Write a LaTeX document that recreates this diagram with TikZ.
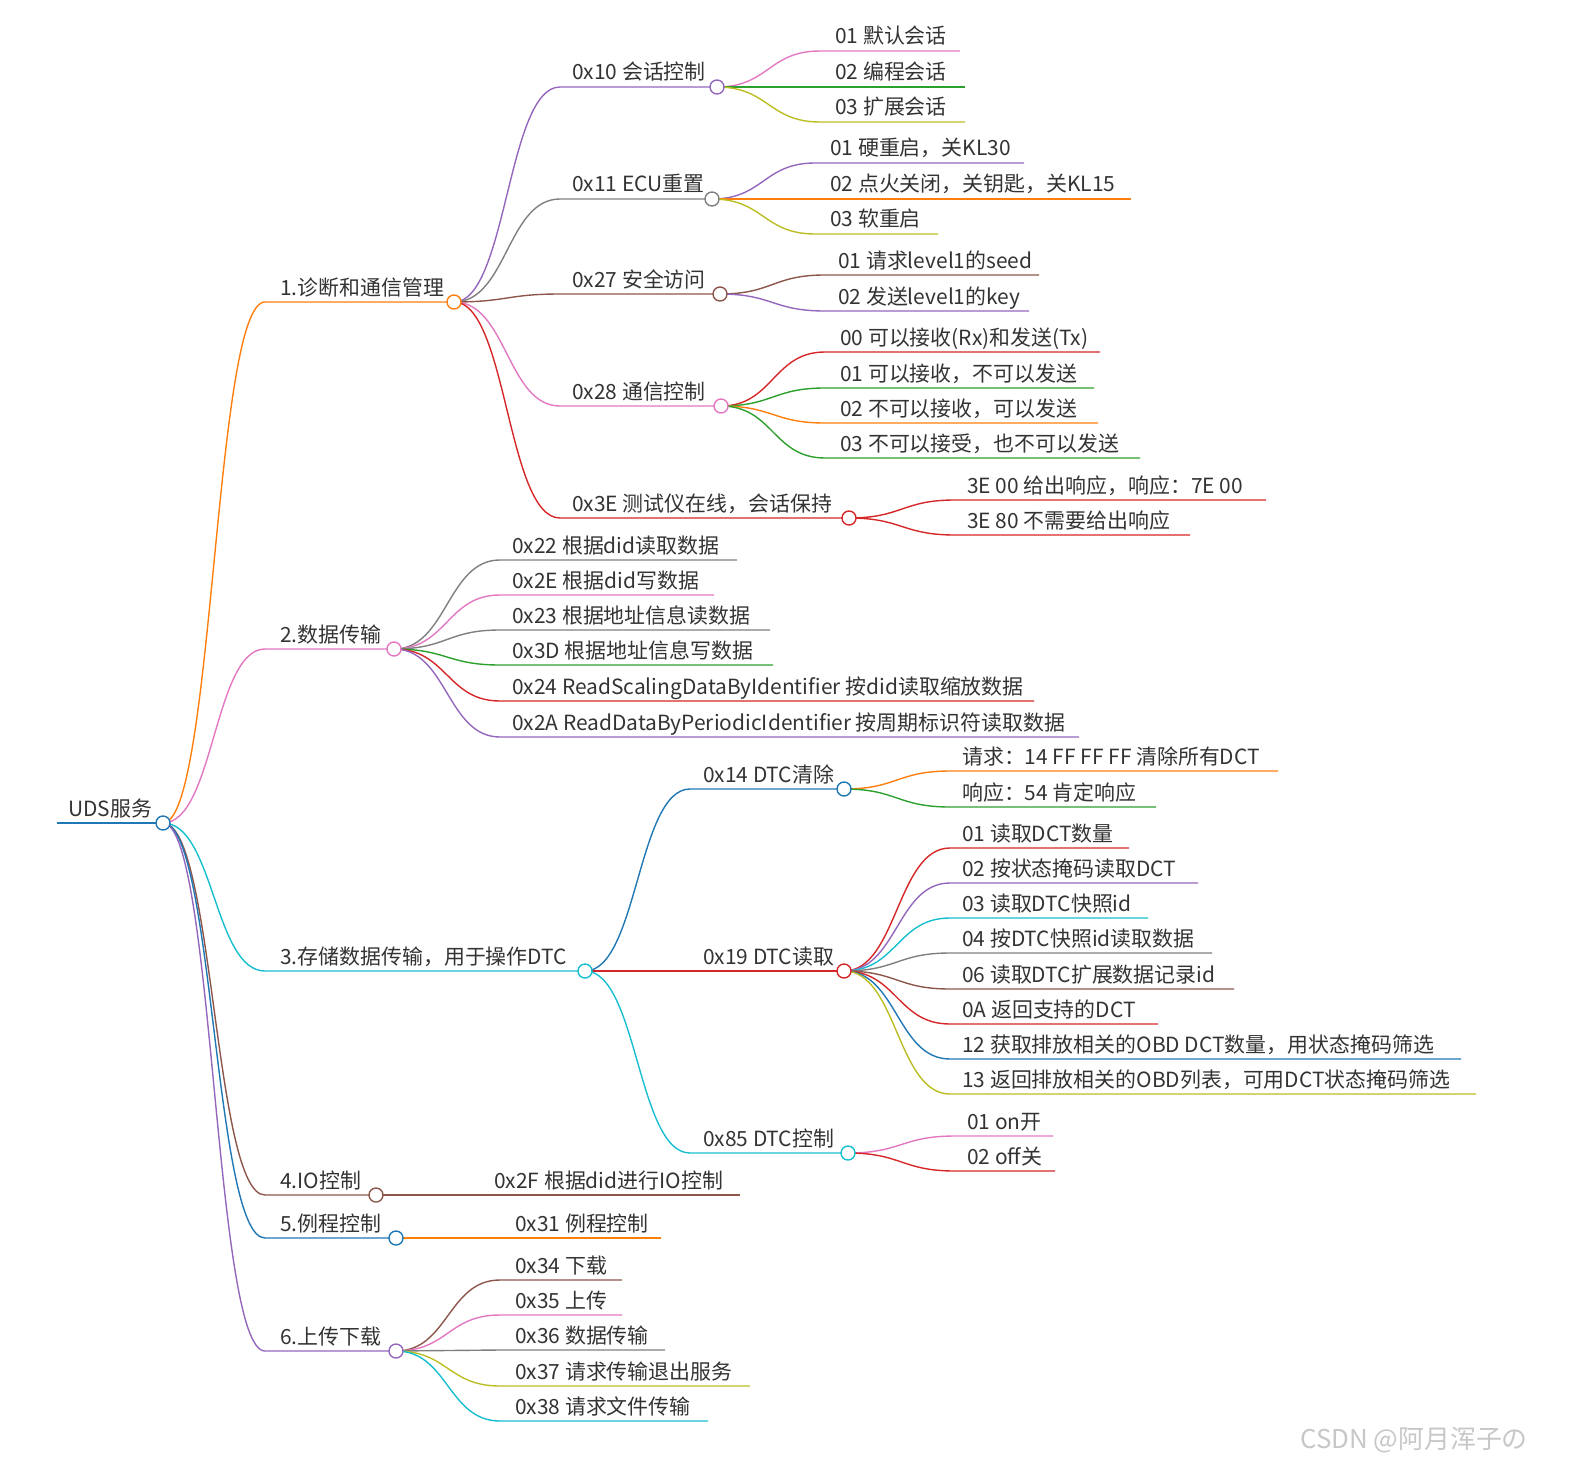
\documentclass[tikz,border=0pt]{standalone}
\usepackage{fontspec}
\setmainfont{Noto Sans CJK SC}
\usetikzlibrary{calc}
\pgfdeclarelayer{fg}\pgfsetlayers{main,fg}
\definecolor{cor}{HTML}{FF7F0E}\definecolor{cpk}{HTML}{E377C2}
\definecolor{ccy}{HTML}{17BECF}\definecolor{cbr}{HTML}{8C564B}
\definecolor{cbl}{HTML}{1F77B4}\definecolor{cpu}{HTML}{9467BD}
\definecolor{cgy}{HTML}{7F7F7F}\definecolor{cgr}{HTML}{2CA02C}
\definecolor{col}{HTML}{BCBD22}\definecolor{crd}{HTML}{D62728}
\tikzset{lw/.style={line width=1.4pt},
 txt/.style={inner sep=0pt,text=black!80,font=\fontsize{21}{24}\selectfont}}
\newcommand\br[8]{%
 \coordinate (#1-s) at (#4,#5); \coordinate (#1) at (#6,#5);
 \draw[#2,lw] let \p1=(#3),\p2=(#1-s) in (\p1) .. controls ({(\x1+\x2)/2},\y1) and ({(\x1+\x2)/2},\y2) .. (\p2) -- (#1);
 \node[txt,anchor=base west] (#1-t) at (#8,#5-7) {#7};}
\newcommand\cir[2]{\begin{pgfonlayer}{fg}\draw[#2,lw,fill=white] (#1) circle (7);\end{pgfonlayer}}
\begin{document}
\begin{tikzpicture}[x=1bp,y=-1bp]
\useasboundingbox (0,0) rectangle (1583,1478);
\coordinate (rs) at (57,823); \coordinate (r) at (163,823);
\draw[cbl,lw] (rs) -- (r);
\node[txt,anchor=base west] (r-t) at (68,816) {UDS服务};
\cir{r}{cbl}
% level 1
\br{a}{cor}{r}{265}{302}{454}{1.诊断和通信管理}{280}\cir{a}{cor}
\br{b}{cpk}{r}{265}{649}{394}{2.数据传输}{280}\cir{b}{cpk}
\br{c}{ccy}{r}{265}{971}{585}{3.存储数据传输，用于操作DTC}{280}\cir{c}{ccy}
\br{d}{cbr}{r}{265}{1195}{376}{4.IO控制}{280}\cir{d}{cbr}
\br{e}{cbl}{r}{265}{1238}{396}{5.例程控制}{280}\cir{e}{cbl}
\br{f}{cpu}{r}{265}{1351}{396}{6.上传下载}{280}\cir{f}{cpu}
% under a
\br{a1}{cpu}{a}{560}{87}{717}{0x10 会话控制}{572}\cir{a1}{cpu}
\br{a11}{cpk}{a1}{820}{51}{960}{01 默认会话}{835}
\br{a12}{cgr}{a1}{820}{87}{965}{02 编程会话}{835}
\br{a13}{col}{a1}{820}{122}{965}{03 扩展会话}{835}
\br{a2}{cgy}{a}{560}{199}{712}{0x11 ECU重置}{572}\cir{a2}{cgy}
\br{a21}{cpu}{a2}{815}{163}{1024}{01 硬重启，关KL30}{830}
\br{a22}{cor}{a2}{815}{199}{1131}{02 点火关闭，关钥匙，关KL15}{830}
\br{a23}{col}{a2}{815}{234}{938}{03 软重启}{830}
\br{a3}{cbr}{a}{560}{294}{720}{0x27 安全访问}{572}\cir{a3}{cbr}
\br{a31}{cbr}{a3}{825}{275}{1039}{01 请求level1的seed}{838}
\br{a32}{cpu}{a3}{825}{311}{1029}{02 发送level1的key}{838}
\br{a4}{cpk}{a}{560}{406}{721}{0x28 通信控制}{572}\cir{a4}{cpk}
\br{a41}{crd}{a4}{825}{352}{1100}{00 可以接收(Rx)和发送(Tx)}{840}
\br{a42}{cgr}{a4}{825}{388}{1094}{01 可以接收，不可以发送}{840}
\br{a43}{cor}{a4}{825}{423}{1098}{02 不可以接收，可以发送}{840}
\br{a44}{cgr}{a4}{825}{458}{1140}{03 不可以接受，也不可以发送}{840}
\br{a5}{crd}{a}{560}{518}{849}{0x3E 测试仪在线，会话保持}{572}\cir{a5}{crd}
\br{a51}{crd}{a5}{955}{500}{1266}{3E 00 给出响应，响应：7E 00}{967}
\br{a52}{crd}{a5}{955}{535}{1190}{3E 80 不需要给出响应}{967}
% under b
\br{b1}{cgy}{b}{500}{560}{737}{0x22 根据did读取数据}{512}
\br{b2}{cpk}{b}{500}{595}{714}{0x2E 根据did写数据}{512}
\br{b3}{cgy}{b}{500}{630}{770}{0x23 根据地址信息读数据}{512}
\br{b4}{cgr}{b}{500}{665}{773}{0x3D 根据地址信息写数据}{512}
\br{b5}{crd}{b}{500}{701}{1034}{0x24 ReadScalingDataByIdentifier 按did读取缩放数据}{512}
\br{b6}{cpu}{b}{500}{737}{1079}{0x2A ReadDataByPeriodicIdentifier 按周期标识符读取数据}{512}
% under c
\br{c1}{cbl}{c}{690}{789}{844}{0x14 DTC清除}{703}\cir{c1}{cbl}
\br{c11}{cor}{c1}{950}{771}{1278}{请求：14 FF FF FF 清除所有DCT}{962}
\br{c12}{cgr}{c1}{950}{807}{1156}{响应：54 肯定响应}{962}
\br{c2}{crd}{c}{690}{971}{844}{0x19 DTC读取}{703}\cir{c2}{crd}
\br{c21}{crd}{c2}{950}{848}{1129}{01 读取DCT数量}{962}
\br{c22}{cpu}{c2}{950}{883}{1198}{02 按状态掩码读取DCT}{962}
\br{c23}{ccy}{c2}{950}{918}{1148}{03 读取DTC快照id}{962}
\br{c24}{cgy}{c2}{950}{953}{1212}{04 按DTC快照id读取数据}{962}
\br{c25}{cbr}{c2}{950}{989}{1234}{06 读取DTC扩展数据记录id}{962}
\br{c26}{crd}{c2}{950}{1024}{1158}{0A 返回支持的DCT}{962}
\br{c27}{cbl}{c2}{950}{1059}{1461}{12 获取排放相关的OBD DCT数量，用状态掩码筛选}{962}
\br{c28}{col}{c2}{950}{1094}{1476}{13 返回排放相关的OBD列表，可用DCT状态掩码筛选}{962}
\br{c3}{ccy}{c}{690}{1153}{848}{0x85 DTC控制}{703}\cir{c3}{ccy}
\br{c31}{cpk}{c3}{955}{1136}{1053}{01 on开}{967}
\br{c32}{crd}{c3}{955}{1171}{1055}{02 off关}{967}
% under d, e, f
\br{d1}{cbr}{d}{385}{1195}{740}{0x2F 根据did进行IO控制}{494}
\br{e1}{cor}{e}{405}{1238}{661}{0x31 例程控制}{515}
\br{f1}{cbr}{f}{500}{1280}{622}{0x34 下载}{515}
\br{f2}{cpk}{f}{500}{1315}{622}{0x35 上传}{515}
\br{f3}{cgy}{f}{500}{1350}{665}{0x36 数据传输}{515}
\br{f4}{col}{f}{500}{1386}{750}{0x37 请求传输退出服务}{515}
\br{f5}{ccy}{f}{500}{1421}{708}{0x38 请求文件传输}{515}
\node[txt,text=black!22,anchor=base west,font=\fontsize{26}{30}\selectfont] (wm) at (1300,1448) {CSDN @阿月浑子の};
\end{tikzpicture}
\end{document}
